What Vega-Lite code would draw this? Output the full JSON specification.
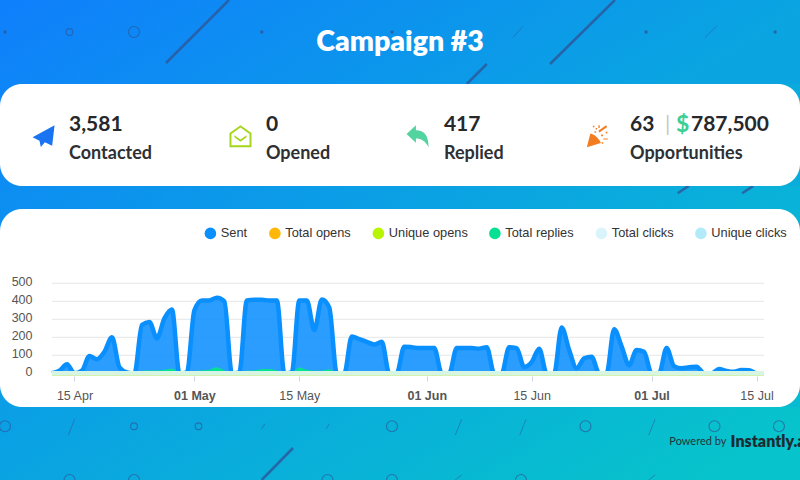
{"$schema":"https://vega.github.io/schema/vega-lite/v6.json","padding":0,"spacing":0,"resolve":{"scale":{"color":"independent","shape":"independent","size":"independent"},"legend":{"color":"independent"}},"config":{"concat":{"spacing":0},"view":{"stroke":null},"text":{"font":"Lato"},"axisY":{"labelOverlap":false,"labelSeparation":0}},"datasets":{"kpi":[{"line":"value","col":0,"text":"3,581"},{"line":"label","col":0,"text":"Contacted"},{"line":"value","col":1.053,"text":"0"},{"line":"label","col":1.053,"text":"Opened"},{"line":"value","col":2.005,"text":"417"},{"line":"label","col":2.005,"text":"Replied"},{"line":"value","col":3,"text":"63"},{"line":"label","col":3,"text":"Opportunities"},{"line":"sep","col":3.187,"text":"|"},{"line":"money","col":3.246,"text":"$"},{"line":"value","col":3.326,"text":"787,500"}],"wall":[{"kind":"long","col":3.473,"row":-0.5,"col2":2.496,"row2":0.484},{"kind":"long","col":9.457,"row":-0.5,"col2":8.45,"row2":0.5},{"kind":"long","col":7.47,"row":0.5,"col2":7.16,"row2":0.8125},{"kind":"long","col":10.6,"row":2.406,"col2":10.43,"row2":2.52},{"kind":"long","col":11.6,"row":2.406,"col2":11.43,"row2":2.52},{"kind":"long","col":4.465,"row":6.5,"col2":3.98,"row2":7},{"kind":"short","col":8.03,"row":-0.09,"col2":7.87,"row2":0.09},{"kind":"short","col":11.03,"row":-0.09,"col2":10.85,"row2":0.09},{"kind":"short","col":1.08,"row":6.05,"col2":0.98,"row2":6.3},{"kind":"short","col":4.03,"row":6.12,"col2":3.98,"row2":6.2},{"kind":"short","col":5.03,"row":6.12,"col2":4.98,"row2":6.2},{"kind":"short","col":7.08,"row":6.05,"col2":6.98,"row2":6.3},{"kind":"short","col":8.08,"row":6.05,"col2":7.98,"row2":6.3},{"kind":"short","col":10.08,"row":6.05,"col2":9.98,"row2":6.3},{"kind":"short","col":7.08,"row":6.92,"col2":6.98,"row2":7},{"kind":"short","col":10.08,"row":6.92,"col2":9.98,"row2":7},{"kind":"dot","col":0,"row":0},{"kind":"dot","col":3.98,"row":0},{"kind":"dot","col":6,"row":0},{"kind":"dot","col":9.94,"row":0},{"kind":"dot","col":11.94,"row":0},{"kind":"small","col":1,"row":0},{"kind":"big","col":2,"row":0},{"kind":"big","col":0,"row":6.16},{"kind":"small","col":2,"row":6.16},{"kind":"small","col":3,"row":6.16},{"kind":"big","col":6,"row":6.16},{"kind":"big","col":9,"row":6.16},{"kind":"big","col":11,"row":6.16},{"kind":"big","col":12,"row":6.16},{"kind":"big","col":1,"row":7},{"kind":"big","col":2,"row":7},{"kind":"big","col":5,"row":7},{"kind":"big","col":6,"row":7},{"kind":"big","col":8,"row":7}],"daily":[{"date":"2021-04-12","sent":0,"replies":0,"opens":0,"uopens":0,"clicks":0,"uclicks":0},{"date":"2021-04-13","sent":15,"replies":0,"opens":0,"uopens":0,"clicks":0,"uclicks":0},{"date":"2021-04-14","sent":50,"replies":0,"opens":0,"uopens":0,"clicks":0,"uclicks":0},{"date":"2021-04-15","sent":0,"replies":0,"opens":0,"uopens":0,"clicks":0,"uclicks":0},{"date":"2021-04-16","sent":15,"replies":0,"opens":0,"uopens":0,"clicks":0,"uclicks":0},{"date":"2021-04-17","sent":96,"replies":0,"opens":0,"uopens":0,"clicks":0,"uclicks":0},{"date":"2021-04-18","sent":78,"replies":0,"opens":0,"uopens":0,"clicks":0,"uclicks":0},{"date":"2021-04-19","sent":120,"replies":0,"opens":0,"uopens":0,"clicks":0,"uclicks":0},{"date":"2021-04-20","sent":200,"replies":0,"opens":0,"uopens":0,"clicks":0,"uclicks":0},{"date":"2021-04-21","sent":33,"replies":0,"opens":0,"uopens":0,"clicks":0,"uclicks":0},{"date":"2021-04-22","sent":5,"replies":0,"opens":0,"uopens":0,"clicks":0,"uclicks":0},{"date":"2021-04-23","sent":0,"replies":0,"opens":0,"uopens":0,"clicks":0,"uclicks":0},{"date":"2021-04-24","sent":268,"replies":10,"opens":0,"uopens":0,"clicks":0,"uclicks":0},{"date":"2021-04-25","sent":285,"replies":12,"opens":0,"uopens":0,"clicks":0,"uclicks":0},{"date":"2021-04-26","sent":195,"replies":12,"opens":0,"uopens":0,"clicks":0,"uclicks":0},{"date":"2021-04-27","sent":305,"replies":15,"opens":0,"uopens":0,"clicks":0,"uclicks":0},{"date":"2021-04-28","sent":355,"replies":22,"opens":0,"uopens":0,"clicks":0,"uclicks":0},{"date":"2021-04-29","sent":0,"replies":0,"opens":0,"uopens":0,"clicks":0,"uclicks":0},{"date":"2021-04-30","sent":5,"replies":0,"opens":0,"uopens":0,"clicks":0,"uclicks":0},{"date":"2021-05-01","sent":350,"replies":8,"opens":0,"uopens":0,"clicks":0,"uclicks":0},{"date":"2021-05-02","sent":405,"replies":12,"opens":0,"uopens":0,"clicks":0,"uclicks":0},{"date":"2021-05-03","sent":405,"replies":15,"opens":0,"uopens":0,"clicks":0,"uclicks":0},{"date":"2021-05-04","sent":420,"replies":30,"opens":0,"uopens":0,"clicks":0,"uclicks":0},{"date":"2021-05-05","sent":400,"replies":12,"opens":0,"uopens":0,"clicks":0,"uclicks":0},{"date":"2021-05-06","sent":0,"replies":0,"opens":0,"uopens":0,"clicks":0,"uclicks":0},{"date":"2021-05-07","sent":5,"replies":0,"opens":0,"uopens":0,"clicks":0,"uclicks":0},{"date":"2021-05-08","sent":405,"replies":10,"opens":0,"uopens":0,"clicks":0,"uclicks":0},{"date":"2021-05-09","sent":408,"replies":12,"opens":0,"uopens":0,"clicks":0,"uclicks":0},{"date":"2021-05-10","sent":408,"replies":20,"opens":0,"uopens":0,"clicks":0,"uclicks":0},{"date":"2021-05-11","sent":405,"replies":20,"opens":0,"uopens":0,"clicks":0,"uclicks":0},{"date":"2021-05-12","sent":405,"replies":12,"opens":0,"uopens":0,"clicks":0,"uclicks":0},{"date":"2021-05-13","sent":0,"replies":0,"opens":0,"uopens":0,"clicks":0,"uclicks":0},{"date":"2021-05-14","sent":5,"replies":0,"opens":0,"uopens":0,"clicks":0,"uclicks":0},{"date":"2021-05-15","sent":405,"replies":28,"opens":0,"uopens":0,"clicks":0,"uclicks":0},{"date":"2021-05-16","sent":405,"replies":15,"opens":0,"uopens":0,"clicks":0,"uclicks":0},{"date":"2021-05-17","sent":240,"replies":10,"opens":0,"uopens":0,"clicks":0,"uclicks":0},{"date":"2021-05-18","sent":410,"replies":10,"opens":0,"uopens":0,"clicks":0,"uclicks":0},{"date":"2021-05-19","sent":365,"replies":18,"opens":0,"uopens":0,"clicks":0,"uclicks":0},{"date":"2021-05-20","sent":0,"replies":0,"opens":0,"uopens":0,"clicks":0,"uclicks":0},{"date":"2021-05-21","sent":0,"replies":0,"opens":0,"uopens":0,"clicks":0,"uclicks":0},{"date":"2021-05-22","sent":205,"replies":5,"opens":0,"uopens":0,"clicks":0,"uclicks":0},{"date":"2021-05-23","sent":190,"replies":5,"opens":0,"uopens":0,"clicks":0,"uclicks":0},{"date":"2021-05-24","sent":175,"replies":5,"opens":0,"uopens":0,"clicks":0,"uclicks":0},{"date":"2021-05-25","sent":160,"replies":5,"opens":0,"uopens":0,"clicks":0,"uclicks":0},{"date":"2021-05-26","sent":175,"replies":5,"opens":0,"uopens":0,"clicks":0,"uclicks":0},{"date":"2021-05-27","sent":0,"replies":0,"opens":0,"uopens":0,"clicks":0,"uclicks":0},{"date":"2021-05-28","sent":0,"replies":0,"opens":0,"uopens":0,"clicks":0,"uclicks":0},{"date":"2021-05-29","sent":148,"replies":3,"opens":0,"uopens":0,"clicks":0,"uclicks":0},{"date":"2021-05-30","sent":145,"replies":3,"opens":0,"uopens":0,"clicks":0,"uclicks":0},{"date":"2021-05-31","sent":140,"replies":3,"opens":0,"uopens":0,"clicks":0,"uclicks":0},{"date":"2021-06-01","sent":140,"replies":3,"opens":0,"uopens":0,"clicks":0,"uclicks":0},{"date":"2021-06-02","sent":140,"replies":3,"opens":0,"uopens":0,"clicks":0,"uclicks":0},{"date":"2021-06-03","sent":0,"replies":0,"opens":0,"uopens":0,"clicks":0,"uclicks":0},{"date":"2021-06-04","sent":0,"replies":0,"opens":0,"uopens":0,"clicks":0,"uclicks":0},{"date":"2021-06-05","sent":140,"replies":0,"opens":0,"uopens":0,"clicks":0,"uclicks":0},{"date":"2021-06-06","sent":140,"replies":0,"opens":0,"uopens":0,"clicks":0,"uclicks":0},{"date":"2021-06-07","sent":140,"replies":0,"opens":0,"uopens":0,"clicks":0,"uclicks":0},{"date":"2021-06-08","sent":137,"replies":0,"opens":0,"uopens":0,"clicks":0,"uclicks":0},{"date":"2021-06-09","sent":145,"replies":0,"opens":0,"uopens":0,"clicks":0,"uclicks":0},{"date":"2021-06-10","sent":0,"replies":0,"opens":0,"uopens":0,"clicks":0,"uclicks":0},{"date":"2021-06-11","sent":0,"replies":0,"opens":0,"uopens":0,"clicks":0,"uclicks":0},{"date":"2021-06-12","sent":145,"replies":0,"opens":0,"uopens":0,"clicks":0,"uclicks":0},{"date":"2021-06-13","sent":140,"replies":0,"opens":0,"uopens":0,"clicks":0,"uclicks":0},{"date":"2021-06-14","sent":35,"replies":0,"opens":0,"uopens":0,"clicks":0,"uclicks":0},{"date":"2021-06-15","sent":62,"replies":0,"opens":0,"uopens":0,"clicks":0,"uclicks":0},{"date":"2021-06-16","sent":137,"replies":0,"opens":0,"uopens":0,"clicks":0,"uclicks":0},{"date":"2021-06-17","sent":0,"replies":0,"opens":0,"uopens":0,"clicks":0,"uclicks":0},{"date":"2021-06-18","sent":0,"replies":0,"opens":0,"uopens":0,"clicks":0,"uclicks":0},{"date":"2021-06-19","sent":255,"replies":0,"opens":0,"uopens":0,"clicks":0,"uclicks":0},{"date":"2021-06-20","sent":130,"replies":0,"opens":0,"uopens":0,"clicks":0,"uclicks":0},{"date":"2021-06-21","sent":28,"replies":0,"opens":0,"uopens":0,"clicks":0,"uclicks":0},{"date":"2021-06-22","sent":83,"replies":0,"opens":0,"uopens":0,"clicks":0,"uclicks":0},{"date":"2021-06-23","sent":92,"replies":0,"opens":0,"uopens":0,"clicks":0,"uclicks":0},{"date":"2021-06-24","sent":0,"replies":0,"opens":0,"uopens":0,"clicks":0,"uclicks":0},{"date":"2021-06-25","sent":0,"replies":0,"opens":0,"uopens":0,"clicks":0,"uclicks":0},{"date":"2021-06-26","sent":245,"replies":0,"opens":0,"uopens":0,"clicks":0,"uclicks":0},{"date":"2021-06-27","sent":150,"replies":0,"opens":0,"uopens":0,"clicks":0,"uclicks":0},{"date":"2021-06-28","sent":45,"replies":0,"opens":0,"uopens":0,"clicks":0,"uclicks":0},{"date":"2021-06-29","sent":130,"replies":0,"opens":0,"uopens":0,"clicks":0,"uclicks":0},{"date":"2021-06-30","sent":120,"replies":0,"opens":0,"uopens":0,"clicks":0,"uclicks":0},{"date":"2021-07-01","sent":0,"replies":0,"opens":0,"uopens":0,"clicks":0,"uclicks":0},{"date":"2021-07-02","sent":0,"replies":0,"opens":0,"uopens":0,"clicks":0,"uclicks":0},{"date":"2021-07-03","sent":140,"replies":0,"opens":0,"uopens":0,"clicks":0,"uclicks":0},{"date":"2021-07-04","sent":40,"replies":0,"opens":0,"uopens":0,"clicks":0,"uclicks":0},{"date":"2021-07-05","sent":28,"replies":0,"opens":0,"uopens":0,"clicks":0,"uclicks":0},{"date":"2021-07-06","sent":33,"replies":0,"opens":0,"uopens":0,"clicks":0,"uclicks":0},{"date":"2021-07-07","sent":37,"replies":0,"opens":0,"uopens":0,"clicks":0,"uclicks":0},{"date":"2021-07-08","sent":0,"replies":0,"opens":0,"uopens":0,"clicks":0,"uclicks":0},{"date":"2021-07-09","sent":0,"replies":0,"opens":0,"uopens":0,"clicks":0,"uclicks":0},{"date":"2021-07-10","sent":24,"replies":0,"opens":0,"uopens":0,"clicks":0,"uclicks":0},{"date":"2021-07-11","sent":13,"replies":0,"opens":0,"uopens":0,"clicks":0,"uclicks":0},{"date":"2021-07-12","sent":8,"replies":0,"opens":0,"uopens":0,"clicks":0,"uclicks":0},{"date":"2021-07-13","sent":18,"replies":0,"opens":0,"uopens":0,"clicks":0,"uclicks":0},{"date":"2021-07-14","sent":17,"replies":0,"opens":0,"uopens":0,"clicks":0,"uclicks":0},{"date":"2021-07-15","sent":0,"replies":0,"opens":0,"uopens":0,"clicks":0,"uclicks":0},{"date":"2021-07-16","sent":0,"replies":0,"opens":0,"uopens":0,"clicks":0,"uclicks":0}]},"vconcat":[{"width":800,"height":84,"layer":[{"data":{"values":[{"panel":"header"}]},"mark":{"type":"rect","color":{"gradient":"linear","x1":0,"y1":0,"x2":1,"y2":0.175,"stops":[{"offset":0,"color":"#0f7ffc"},{"offset":1,"color":"#0aa5e1"}]}}},{"data":{"name":"wall"},"transform":[{"filter":"datum.kind=='long'"}],"mark":{"type":"rule","clip":true,"color":"#2b5a9e","opacity":0.85,"strokeWidth":2.6},"encoding":{"x":{"field":"col","type":"quantitative","axis":null,"scale":{"domain":[-0.0775,12.326],"nice":false,"zero":false}},"x2":{"field":"col2"},"y":{"field":"row","type":"quantitative","axis":null,"scale":{"domain":[-0.5,0.8125],"reverse":true,"nice":false,"zero":false}},"y2":{"field":"row2"}}},{"data":{"name":"wall"},"transform":[{"filter":"datum.kind=='short'"}],"mark":{"type":"rule","clip":true,"color":"#2b5a9e","opacity":0.55,"strokeWidth":1},"encoding":{"x":{"field":"col","type":"quantitative"},"x2":{"field":"col2"},"y":{"field":"row","type":"quantitative"},"y2":{"field":"row2"}}},{"data":{"name":"wall"},"transform":[{"filter":"datum.kind=='dot'"}],"mark":{"type":"point","clip":true,"filled":true,"color":"#2b5a9e","size":12,"opacity":0.8},"encoding":{"x":{"field":"col","type":"quantitative"},"y":{"field":"row","type":"quantitative"}}},{"data":{"name":"wall"},"transform":[{"filter":"datum.kind=='small'"}],"mark":{"type":"point","clip":true,"color":"#2b5a9e","size":45,"strokeWidth":1.1,"opacity":0.7},"encoding":{"x":{"field":"col","type":"quantitative"},"y":{"field":"row","type":"quantitative"}}},{"data":{"name":"wall"},"transform":[{"filter":"datum.kind=='big'"}],"mark":{"type":"point","clip":true,"color":"#2b5a9e","size":120,"strokeWidth":1.1,"opacity":0.7},"encoding":{"x":{"field":"col","type":"quantitative"},"y":{"field":"row","type":"quantitative"}}},{"data":{"values":[{"heading":"Campaign #3","col":6.125,"row":0.16}]},"mark":{"type":"text","font":"Lato","fontWeight":800,"fontSize":28.5,"color":"#ffffff","align":"center","baseline":"middle"},"encoding":{"x":{"field":"col","type":"quantitative"},"y":{"field":"row","type":"quantitative"},"text":{"field":"heading"}}}]},{"width":800,"height":102,"layer":[{"data":{"values":[{"panel":"kpi"}]},"mark":{"type":"rect","color":{"gradient":"linear","x1":0,"y1":0,"x2":1,"y2":0.2125,"stops":[{"offset":0,"color":"#0e85f8"},{"offset":1,"color":"#0aacdc"}]}}},{"data":{"values":[{"panel":"kpi card"}]},"mark":{"type":"rect","color":"#ffffff","cornerRadius":22}},{"data":{"name":"kpi"},"transform":[{"filter":"datum.line=='value'"}],"mark":{"type":"text","font":"Lato","fontWeight":700,"fontSize":21,"color":"#26282c","align":"left","baseline":"middle"},"encoding":{"x":{"field":"col","type":"quantitative","axis":null,"scale":{"domain":[0,3],"range":[69,630],"nice":false,"zero":false}},"y":{"field":"line","type":"nominal","axis":null,"scale":{"domain":["value","icon","label"],"range":[40.5,70],"padding":0}},"text":{"field":"text"}}},{"data":{"name":"kpi"},"transform":[{"filter":"datum.line=='label'"}],"mark":{"type":"text","font":"Lato","fontWeight":700,"fontSize":18,"color":"#2e3034","align":"left","baseline":"middle"},"encoding":{"x":{"field":"col","type":"quantitative"},"y":{"field":"line","type":"nominal"},"text":{"field":"text"}}},{"data":{"name":"kpi"},"transform":[{"filter":"datum.line=='money'"}],"mark":{"type":"text","font":"Lato","fontWeight":700,"fontSize":23,"color":"#3ccf95","align":"left","baseline":"middle"},"encoding":{"x":{"field":"col","type":"quantitative"},"y":{"datum":"value"},"text":{"field":"text"}}},{"data":{"name":"kpi"},"transform":[{"filter":"datum.line=='sep'"}],"mark":{"type":"text","font":"Lato","fontWeight":400,"fontSize":21,"color":"#c4c6c8","align":"left","baseline":"middle"},"encoding":{"x":{"field":"col","type":"quantitative"},"y":{"datum":"value"},"text":{"field":"text"}}},{"data":{"values":[{"icon":"plane","col":-0.136},{"icon":"envelope","col":0.917},{"icon":"reply","col":1.864},{"icon":"popper","col":2.828}]},"mark":{"type":"point","filled":true,"opacity":1,"strokeWidth":0,"yOffset":-3},"encoding":{"x":{"field":"col","type":"quantitative"},"y":{"datum":"icon"},"shape":{"field":"icon","type":"nominal","legend":null,"scale":{"domain":["plane","envelope","reply","popper"],"range":["M1,-1L-1,0.1L-0.37,0.4L-0.25,0.97L0.12,0.55L0.78,0.87ZM0.72,-0.68L-0.2,0.3L-0.15,0.55Z","M-1,-0.3L0,-1L1,-0.3L1,1L-1,1ZM-0.82,-0.2L-0.82,0.82L0.82,0.82L0.82,-0.2L0,-0.8ZM-0.55,-0.1L0,0.3L0.55,-0.1L0.55,0.08L0,0.5L-0.55,0.08Z","M-1,-0.2L-0.15,-1L-0.15,-0.55C0.6,-0.55 1,-0.1 1,1C0.7,0.4 0.3,0.2 -0.15,0.2L-0.15,0.6Z","M-1,1L-0.68,-0.25C-0.3,-0.2 0.2,0.3 0.28,0.62ZM-0.2,-0.75h0.14v0.14h-0.14ZM-0.45,-0.95h0.14v0.14h-0.14ZM-0.3,-0.45h0.14v0.14h-0.14ZM0.05,-0.5L0.75,-1L0.85,-0.85L0.15,-0.35ZM0.3,-0.15h0.16v0.16h-0.16ZM0.5,0.2h0.4v0.1h-0.4ZM0.35,0.55h0.14v0.14h-0.14ZM0.72,-0.4h0.14v0.14h-0.14ZM0.05,-1h0.12v0.25h-0.12Z"]}},"color":{"field":"icon","type":"nominal","legend":null,"scale":{"domain":["plane","envelope","reply","popper"],"range":["#1a73f0","#a5d61c","#52d39f","#f47c20"]}},"size":{"field":"icon","type":"nominal","legend":null,"scale":{"domain":["plane","envelope","reply","popper"],"range":[484,484,441,961]}}}}]},{"width":800,"height":23,"layer":[{"data":{"values":[{"panel":"gap"}]},"mark":{"type":"rect","color":{"gradient":"linear","x1":0,"y1":0,"x2":1,"y2":0.0479,"stops":[{"offset":0,"color":"#0d8df2"},{"offset":1,"color":"#09b2d8"}]}}},{"data":{"name":"wall"},"transform":[{"filter":"datum.kind=='long'"}],"mark":{"type":"rule","clip":true,"color":"#2b5a9e","opacity":0.85,"strokeWidth":2.6},"encoding":{"x":{"field":"col","type":"quantitative","axis":null,"scale":{"domain":[-0.0775,12.326],"nice":false,"zero":false}},"x2":{"field":"col2"},"y":{"field":"row","type":"quantitative","axis":null,"scale":{"domain":[2.406,2.766],"reverse":true,"nice":false,"zero":false}},"y2":{"field":"row2"}}}]},{"width":800,"height":198,"layer":[{"data":{"values":[{"panel":"chart"}]},"mark":{"type":"rect","color":{"gradient":"linear","x1":0,"y1":0,"x2":1,"y2":0.4125,"stops":[{"offset":0,"color":"#0d8ff1"},{"offset":1,"color":"#08bad2"}]}}},{"data":{"values":[{"panel":"chart card"}]},"mark":{"type":"rect","color":"#ffffff","cornerRadius":22}},{"data":{"values":[{"tick":0,"from":"2021-04-12","to":"2021-07-16"},{"tick":100,"from":"2021-04-12","to":"2021-07-16"},{"tick":200,"from":"2021-04-12","to":"2021-07-16"},{"tick":300,"from":"2021-04-12","to":"2021-07-16"},{"tick":400,"from":"2021-04-12","to":"2021-07-16"},{"tick":500,"from":"2021-04-12","to":"2021-07-16"}]},"mark":{"type":"rule","color":"#e6e6e6","strokeWidth":1},"encoding":{"x":{"field":"from","type":"temporal"},"x2":{"field":"to"},"y":{"field":"tick","type":"quantitative","axis":{"title":null,"orient":"left","offset":-32,"zindex":1,"domain":false,"ticks":false,"grid":false,"labelOverlap":false,"labelBound":false,"labelFlush":false,"tickCount":6,"values":[0,100,200,300,400,500],"labelFont":"Liberation Sans","labelFontSize":12.5,"labelColor":"#555555","labelPadding":0,"labelOffset":-1.5}}}},{"data":{"name":"daily"},"mark":{"type":"area","interpolate":"monotone","opacity":1,"fillOpacity":0.87,"line":{"strokeWidth":4.5,"opacity":1}},"encoding":{"x":{"field":"date","type":"temporal","scale":{"type":"utc","domain":["2021-04-12","2021-07-16"],"range":[52,764],"nice":false},"axis":{"title":null,"orient":"bottom","offset":-31,"zindex":1,"domain":false,"grid":false,"tickSize":5,"tickColor":"#ccd6eb","labelFont":"Liberation Sans","labelFontSize":12.5,"labelColor":"#555555","labelPadding":8,"labelFlush":false,"labelOverlap":false,"labelExpr":"utcFormat(datum.value,'%d %b')","values":["2021-04-15","2021-05-01","2021-05-15","2021-06-01","2021-06-15","2021-07-01","2021-07-15"],"labelFontWeight":{"condition":{"test":"utcdate(datum.value)==1","value":"bold"},"value":"normal"}}},"y":{"field":"sent","type":"quantitative","scale":{"domain":[0,500],"range":[164.3,74.3],"nice":false}},"color":{"datum":"Sent","scale":{"domain":["Sent","Total opens","Unique opens","Total replies","Total clicks","Unique clicks"],"range":["#0a8fff","#ffb80a","#b7f505","#06e093","#d9f5fb","#b3eafa"]},"legend":{"title":null,"orient":"none","legendX":204,"legendY":18,"direction":"horizontal","columns":6,"gridAlign":"none","columnPadding":20.5,"symbolType":"circle","symbolSize":135,"symbolOpacity":1,"symbolStrokeWidth":0,"labelFont":"Liberation Sans","labelFontSize":12.8,"labelColor":"#333333","labelOffset":4,"encoding":{"labels":{"update":{"dy":{"value":2}}}}}}}},{"data":{"name":"daily"},"mark":{"type":"area","opacity":1,"interpolate":"monotone","line":{"strokeWidth":4.7}},"encoding":{"x":{"field":"date","type":"temporal"},"y":{"field":"uclicks","type":"quantitative"},"color":{"datum":"Unique clicks"}}},{"data":{"name":"daily"},"mark":{"type":"area","opacity":1,"interpolate":"monotone","line":{"strokeWidth":4.7}},"encoding":{"x":{"field":"date","type":"temporal"},"y":{"field":"opens","type":"quantitative"},"color":{"datum":"Total opens"}}},{"data":{"name":"daily"},"mark":{"type":"area","opacity":1,"interpolate":"monotone","line":{"strokeWidth":1.5}},"encoding":{"x":{"field":"date","type":"temporal"},"y":{"field":"replies","type":"quantitative"},"color":{"datum":"Total replies"}}},{"data":{"name":"daily"},"mark":{"type":"area","opacity":1,"interpolate":"monotone","line":{"strokeWidth":4.7}},"encoding":{"x":{"field":"date","type":"temporal"},"y":{"field":"uopens","type":"quantitative"},"color":{"datum":"Unique opens"}}},{"data":{"name":"daily"},"mark":{"type":"area","opacity":1,"interpolate":"monotone","line":{"strokeWidth":4.7,"opacity":0.9}},"encoding":{"x":{"field":"date","type":"temporal"},"y":{"field":"clicks","type":"quantitative"},"color":{"datum":"Total clicks"}}}]},{"width":800,"height":73,"layer":[{"data":{"values":[{"panel":"footer"}]},"mark":{"type":"rect","color":{"gradient":"linear","x1":0,"y1":0,"x2":1,"y2":0.1521,"stops":[{"offset":0,"color":"#0b9ee6"},{"offset":1,"color":"#07c3cb"}]}}},{"data":{"name":"wall"},"transform":[{"filter":"datum.kind=='long'"}],"mark":{"type":"rule","clip":true,"color":"#2b5a9e","opacity":0.85,"strokeWidth":2.6},"encoding":{"x":{"field":"col","type":"quantitative","axis":null,"scale":{"domain":[-0.0775,12.326],"nice":false,"zero":false}},"x2":{"field":"col2"},"y":{"field":"row","type":"quantitative","axis":null,"scale":{"domain":[5.859,7],"reverse":true,"nice":false,"zero":false}},"y2":{"field":"row2"}}},{"data":{"name":"wall"},"transform":[{"filter":"datum.kind=='short'"}],"mark":{"type":"rule","clip":true,"color":"#2b5a9e","opacity":0.55,"strokeWidth":1},"encoding":{"x":{"field":"col","type":"quantitative"},"x2":{"field":"col2"},"y":{"field":"row","type":"quantitative"},"y2":{"field":"row2"}}},{"data":{"name":"wall"},"transform":[{"filter":"datum.kind=='small'"}],"mark":{"type":"point","clip":true,"color":"#2b5a9e","size":45,"strokeWidth":1.1,"opacity":0.7},"encoding":{"x":{"field":"col","type":"quantitative"},"y":{"field":"row","type":"quantitative"}}},{"data":{"name":"wall"},"transform":[{"filter":"datum.kind=='big'"}],"mark":{"type":"point","clip":true,"color":"#2b5a9e","size":120,"strokeWidth":1.1,"opacity":0.7},"encoding":{"x":{"field":"col","type":"quantitative"},"y":{"field":"row","type":"quantitative"}}},{"data":{"values":[{"brand":"Powered by","col":10.3,"row":6.4}]},"mark":{"type":"text","clip":true,"font":"Lato","fontWeight":400,"fontSize":11,"color":"#26323a","align":"left","baseline":"middle"},"encoding":{"x":{"field":"col","type":"quantitative"},"y":{"field":"row","type":"quantitative"},"text":{"field":"brand"}}},{"data":{"values":[{"brand":"Instantly.ai","col":11.25,"row":6.4}]},"mark":{"type":"text","clip":true,"font":"Lato","fontWeight":800,"fontSize":16,"color":"#1c2b33","align":"left","baseline":"middle"},"encoding":{"x":{"field":"col","type":"quantitative"},"y":{"field":"row","type":"quantitative"},"text":{"field":"brand"}}}]}]}
